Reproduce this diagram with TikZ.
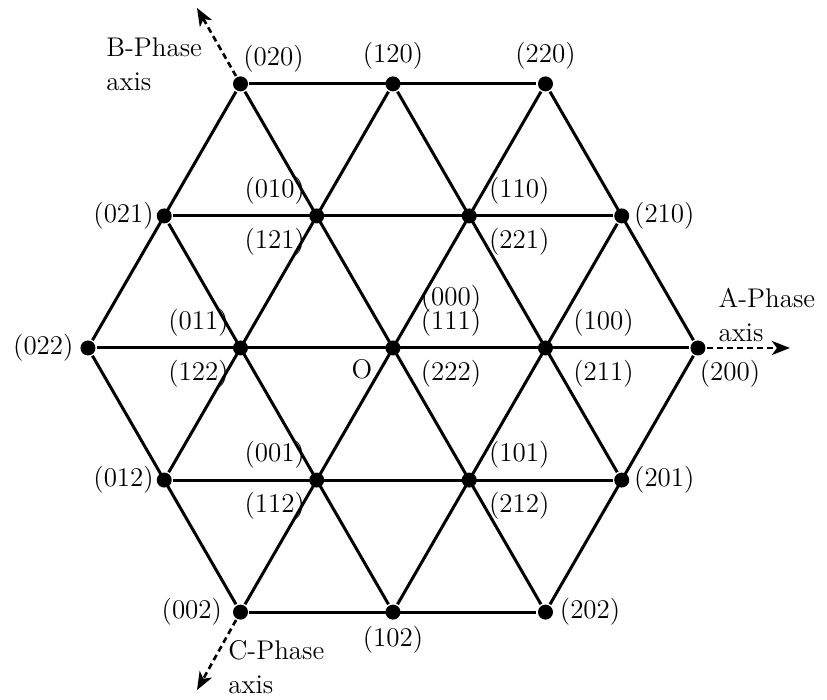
\documentclass[tikz,border=0pt]{standalone}
\usetikzlibrary{arrows.meta}
\begin{document}
\begin{tikzpicture}[x=2.68cm, y=2.68cm, font=\fontsize{13.5}{17}\selectfont, line width=1.5pt,
  vec/.style={circle, fill=black, inner sep=0pt, minimum size=7.5pt},
  every label/.append style={inner sep=2pt},
  phase/.style={densely dashed, line width=1.3pt, -{Stealth[length=9pt,width=7pt,inset=2.5pt]}}]
\useasboundingbox (-2.577,-2.308) rectangle (2.846,2.282);

% top row
\node[vec, label={[xshift=-4.5pt]above right:{(020)}}] (v020) at (-1,1.732) {};
\node[vec, label=above:{(120)}] (v120) at (0,1.732) {};
\node[vec, label=above:{(220)}] (v220) at (1,1.732) {};

% second row
\node[vec, label={[label distance=-2pt]left:{(021)}}] (v021) at (-1.5,0.866) {};
\node[vec, label=above left:{(010)}, label=below left:{(121)}] (v010) at (-0.5,0.866) {};
\node[vec, label={[xshift=4pt]above right:{(110)}}, label={[xshift=4pt]below right:{(221)}}] (v110) at (0.5,0.866) {};
\node[vec, label={[label distance=-1pt]right:{(210)}}] (v210) at (1.5,0.866) {};

% middle row
\node[vec, label=left:{(022)}] (v022) at (-2,0) {};
\node[vec, label=above left:{(011)}, label=below left:{(122)}] (v011) at (-1,0) {};
\node[vec, label={[xshift=8pt,yshift=12pt]above right:{(000)}}, label={[xshift=8pt]above right:{(111)}},
  label={[xshift=8pt]below right:{(222)}}, label={[xshift=-4.5pt]below left:O}] (v000) at (0,0) {};
\node[vec, label={[xshift=8pt]above right:{(100)}}, label={[xshift=8pt]below right:{(211)}}] (v100) at (1,0) {};
\node[vec, label={[xshift=-5pt]below right:{(200)}}] (v200) at (2,0) {};

% fourth row
\node[vec, label={[label distance=-2pt]left:{(012)}}] (v012) at (-1.5,-0.866) {};
\node[vec, label=above left:{(001)}, label=below left:{(112)}] (v001) at (-0.5,-0.866) {};
\node[vec, label={[xshift=4pt]above right:{(101)}}, label={[xshift=4pt]below right:{(212)}}] (v101) at (0.5,-0.866) {};
\node[vec, label={[label distance=-1pt]right:{(201)}}] (v201) at (1.5,-0.866) {};

% bottom row
\node[vec, label={[label distance=2pt]left:{(002)}}] (v002) at (-1,-1.732) {};
\node[vec, label=below:{(102)}] (v102) at (0,-1.732) {};
\node[vec, label=right:{(202)}] (v202) at (1,-1.732) {};

% horizontal lines
\draw (v020) -- (v220);
\draw (v021) -- (v210);
\draw (v022) -- (v200);
\draw (v012) -- (v201);
\draw (v002) -- (v202);

% lines rising to the right
\draw (v022) -- (v020);
\draw (v012) -- (v120);
\draw (v002) -- (v220);
\draw (v102) -- (v210);
\draw (v202) -- (v200);

% lines falling to the right
\draw (v220) -- (v200);
\draw (v120) -- (v201);
\draw (v020) -- (v202);
\draw (v021) -- (v102);
\draw (v022) -- (v002);

% phase axes
\coordinate (aEnd) at (2.603,0);
\coordinate (bEnd) at (-1.285,2.23);
\coordinate (cEnd) at (-1.285,-2.243);
\draw[phase] (v200) -- (aEnd);
\draw[phase] (v020) -- (bEnd);
\draw[phase] (v002) -- (cEnd);

\node[anchor=north west, align=left, inner sep=0pt] (aLab) at (2.125,0.404) {A-Phase\\axis};
\node[anchor=north west, align=left, inner sep=0pt] (bLab) at (-1.889,2.044) {B-Phase\\axis};
\node[anchor=north west, align=left, inner sep=0pt] (cLab) at (-1.089,-1.910) {C-Phase\\axis};

\end{tikzpicture}
\end{document}
